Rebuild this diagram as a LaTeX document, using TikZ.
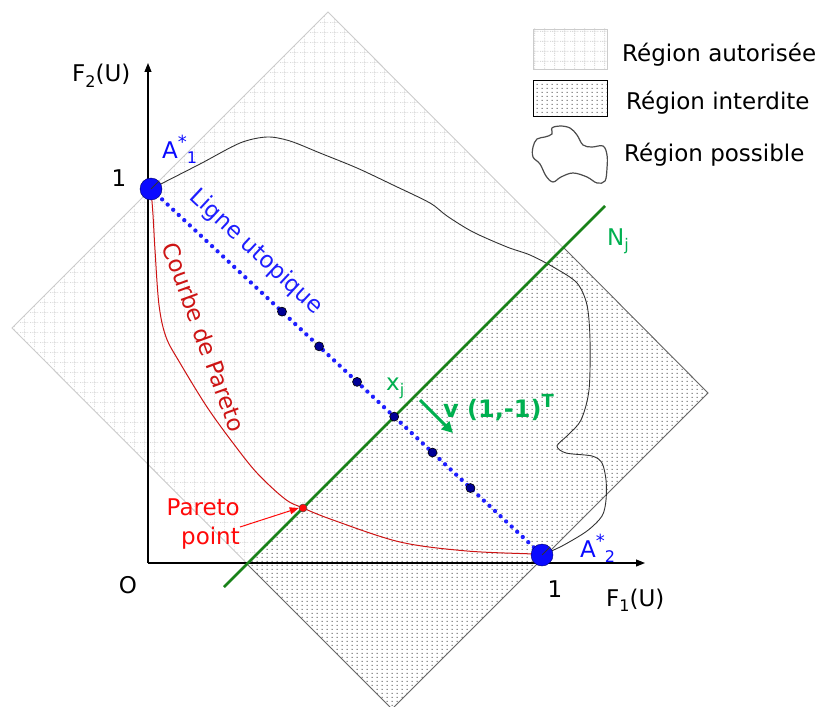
\documentclass[tikz,border=0pt]{standalone}
\usepackage{fontspec}
\setmainfont{DejaVu Sans}
\usetikzlibrary{patterns.meta,arrows.meta,calc}

\definecolor{ptblue}{RGB}{10,10,255}
\definecolor{utoblue}{RGB}{30,30,255}
\definecolor{navydot}{RGB}{0,0,150}
\definecolor{txtgreen}{RGB}{0,176,80}
\definecolor{linegreen}{RGB}{25,130,25}
\definecolor{curvered}{RGB}{205,20,20}
\definecolor{brightred}{RGB}{255,10,10}

\tikzdeclarepattern{
  name=densedots,
  type=uncolored,
  bounding box={(0,0) and (5pt,4pt)},
  tile size={(5pt,4pt)},
  code={\fill (2pt,1.5pt) rectangle (3pt,2.5pt);}
}
\tikzdeclarepattern{
  name=lightgrid,
  type=uncolored,
  bounding box={(0,0) and (10pt,10pt)},
  tile size={(10pt,10pt)},
  code={\draw[line width=0.9pt, dash pattern=on 1pt off 1pt] (0,5pt) -- (10pt,5pt) (5pt,0) -- (5pt,10pt);}
}

\newcommand\lowsub[1]{\raisebox{-0.45ex}{\fontsize{16}{16}\selectfont #1}}
\newcommand\highsup[1]{\raisebox{0.75ex}{\fontsize{18}{18}\selectfont #1}}

\tikzset{
  lbl/.style={font=\fontsize{23}{29}\selectfont, inner sep=0pt},
  allowed/.style={pattern=lightgrid, pattern color=gray!30},
  forbidden/.style={pattern=densedots, pattern color=black!65},
  axisline/.style={line width=1.1pt, -{Triangle[length=9pt,width=7pt]}},
  possible/.style={line width=0.9pt, black!80},
  bigpt/.style={circle, fill=ptblue, draw=blue!40!black, line width=0.4pt, minimum size=22pt, inner sep=0pt},
  smallpt/.style={circle, fill=navydot, draw=black, line width=0.6pt, minimum size=9pt, inner sep=0pt},
}

\begin{document}
\begin{tikzpicture}[x=1pt,y=-1pt]
\useasboundingbox (0,0) rectangle (829,706);

% ---- allowed region (big diamond)
\coordinate (DT) at (328,12);
\coordinate (DR) at (708,393);
\coordinate (DB) at (392,709);
\coordinate (DL) at (12,328);
\fill[white] (DT) -- (DR) -- (DB) -- (DL) -- cycle;
\fill[allowed] (DT) -- (DR) -- (DB) -- (DL) -- cycle;
\draw[gray!40, line width=0.9pt] (DT) -- (DR) -- (DB) -- (DL) -- cycle;

% ---- forbidden region
\coordinate (G1) at (247,564);
\coordinate (G2) at (564,248);
\fill[white] (G1) -- (G2) -- (DR) -- (DB) -- cycle;
\fill[forbidden] (G1) -- (G2) -- (DR) -- (DB) -- cycle;
\draw[black!60, line width=0.9pt] (G2) -- (DR) -- (DB) -- (G1);

% ---- legend
\fill[white] (533,29) rectangle (607,69);
\fill[allowed] (533,29) rectangle (607,69);
\draw[gray!40, line width=0.9pt] (533,29) rectangle (607,69);
\fill[white] (533,81) rectangle (607,117);
\fill[forbidden] (533,81) rectangle (607,117);
\draw[black, line width=1pt] (533,81) rectangle (607,117);
\draw[black!70, line width=1.2pt] plot[smooth cycle, tension=0.6] coordinates {
 (533,147) (537,139) (545,137) (552,134) (552,128) (560,126) (570,128) (577,135)
 (583,145) (592,147) (603,146) (607,155) (607,168) (605,181) (597,183) (587,177)
 (573,173) (561,177) (553,182) (546,176) (540,164) (533,157)};
\node[lbl, anchor=west] (L1) at (622,55) {Région autorisée};
\node[lbl, anchor=west] (L2) at (626,103) {Région interdite};
\node[lbl, anchor=west] (L3) at (624,155) {Région possible};

% ---- key points
\coordinate (O) at (148,563);
\coordinate (Ytip) at (148,63);
\coordinate (Xtip) at (645,563);
\coordinate (A1) at (151,189);
\coordinate (A2) at (542,555);
\coordinate (N1) at (224,587);
\coordinate (N2) at (605,206);
\coordinate (PP) at (303,508);

% ---- possible region
\draw[possible] plot[smooth, tension=0.5] coordinates {
 (A1) (200,164) (240,143) (267,137) (290,141) (320,153) (357,168) (393,185)
 (430,203) (447,216) (473,232) (507,247) (530,255) (555,268) (577,283)
 (587,305) (590,340) (589,390) (581,420) (568,435) (557,446) (566,453)
 (592,456) (602,463) (606,480) (606,500) (602,516) (587,531) (562,546) (A2)};

% ---- axes
\draw[axisline] (O) -- (Ytip);
\draw[axisline] (O) -- (Xtip);

% ---- Pareto curve
\draw[curvered, line width=1pt] plot[smooth, tension=0.55] coordinates {
 (A1) (153,215) (155,250) (159,305) (166,337) (180,363) (207,407) (233,443)
 (257,473) (285,499) (PP) (333,520) (400,542) (467,551) (533,554) (A2)};

% ---- green line N_j
\draw[linegreen, line width=2.6pt] (N1) -- (N2);

% ---- utopia line
\draw[utoblue, line width=4.3pt, dash pattern=on 0pt off 7.6pt, line cap=round] (A1) -- (A2);
\node[smallpt] (d1) at ($(A1)!0.335!(A2)$) {};
\node[smallpt] (d2) at ($(A1)!0.43!(A2)$) {};
\node[smallpt] (d3) at ($(A1)!0.527!(A2)$) {};
\node[smallpt] (xj) at ($(A1)!0.622!(A2)$) {};
\node[smallpt] (d5) at ($(A1)!0.72!(A2)$) {};
\node[smallpt] (d6) at ($(A1)!0.817!(A2)$) {};

% ---- big points
\node[bigpt] (P1) at (A1) {};
\node[bigpt] (P2) at (A2) {};
\draw[black!80, line width=0.8pt] (A1) -- (P1.north east);
\draw[black!80, line width=0.8pt] (A2) -- (P2.north east);

% ---- Pareto point
\node[circle, fill=brightred, draw=black!70, line width=0.5pt, minimum size=8pt, inner sep=0pt] (ppt) at (PP) {};
\node[lbl, text=brightred, align=right, anchor=east] (ptxt) at (240,524) {Pareto\\point};
\coordinate (arrS) at (240,527);
\draw[brightred, line width=1pt, -{Triangle[length=9pt,width=7pt]}] (arrS) -- (ppt.west);

% ---- direction arrow
\coordinate (vS) at (420,400);
\coordinate (vE) at (453,433);
\draw[txtgreen, line width=3pt, -{Triangle[length=11pt,width=11pt]}] (vS) -- (vE);

% ---- labels
\node[lbl, anchor=base west] (F2) at (72,82) {F\lowsub{2}(U)};
\node[lbl, anchor=base west] (F1) at (606,606) {F\lowsub{1}(U)};
\node[lbl] (one2) at (119,178) {1};
\node[lbl] (one1) at (555,589) {1};
\node[lbl] (orig) at (128,585) {O};
\node[lbl, text=ptblue, anchor=base west] (lA1) at (162,158) {A\highsup{*}\lowsub{1}};
\node[lbl, text=ptblue, anchor=base west] (lA2) at (580,557) {A\highsup{*}\lowsub{2}};
\node[lbl, text=txtgreen, anchor=base west] (lxj) at (386,390) {x\lowsub{j}};
\node[lbl, text=txtgreen, anchor=base west] (lNj) at (607,245) {N\lowsub{j}};
\node[lbl, text=txtgreen, anchor=base west, font=\fontsize{24}{28}\selectfont\bfseries] (lv) at (443,417) {v (1,-1)\highsup{T}};
\node[lbl, text=utoblue, rotate=-43] (lut) at (256,252) {Ligne utopique};
\node[lbl, text=curvered, rotate=-70] (lcp) at (204,337) {Courbe de Pareto};
\end{tikzpicture}
\end{document}
